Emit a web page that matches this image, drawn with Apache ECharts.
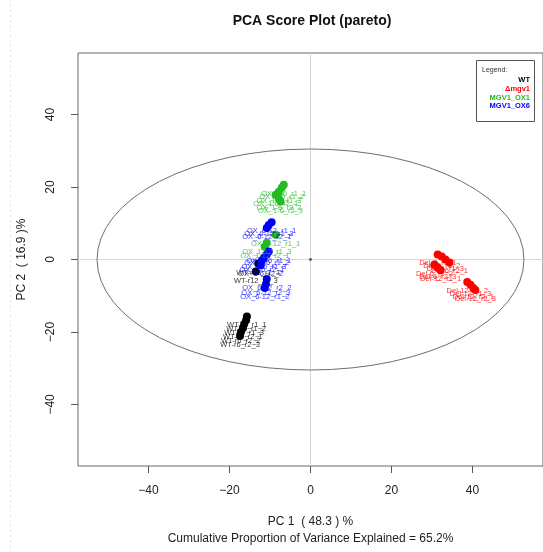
<!DOCTYPE html>
<html>
<head>
<meta charset="utf-8">
<script src="https://cdn.jsdelivr.net/npm/echarts@6/dist/echarts.min.js"></script>
<style>
  html, body { margin: 0; padding: 0; background: #fff; }
  #chart { width: 543px; height: 552px; }
</style>
</head>
<body>
<div id="chart"></div>
<script>
// PCA scores (pareto scaling) per sample group
const wtPC1 = [-15.7, -15.9, -16.4, -16.7, -17.2, -17.4, -12.9, -13.5];
const wtPC2 = [-15.7, -16.8, -17.9, -19.0, -20.1, -21.1, -1.1, -3.3];
const wtSamples = ['WT-r6_r1_1', 'WT-r6_r1_2', 'WT-r6_r1_3', 'WT-r6_r2_1', 'WT-r6_r2_2', 'WT-r6_r2_3', 'WT-r12_r1_1', 'WT-r12_r1_3'];

const delPC1 = [31.4, 32.4, 33.3, 34.3, 30.6, 31.4, 32.1, 38.7, 39.5, 40.2, 40.7];
const delPC2 = [1.4, 0.8, 0.0, -0.8, -1.4, -2.2, -3.0, -6.2, -7.0, -7.9, -8.4];
const delSamples = ['Del-6_r1_1', 'Del-6_r1_2', 'Del-6_r1_3', 'Del-6_r2_1', 'Del-6_r2_2', 'Del-6_r2_3', 'Del-12_r1_1', 'Del-12_r1_2', 'Del-12_r1_3', 'Del-12_r2_1', 'Del-12_r2_3'];

const ox1PC1 = [-6.6, -7.1, -7.8, -8.6, -7.8, -7.4, -8.6, -10.8, -11.3];
const ox1PC2 = [20.6, 19.8, 18.7, 17.9, 16.8, 16.0, 6.8, 4.6, 3.5];
const ox1Samples = ['OX_1-6_r1_1', 'OX_1-6_r1_2', 'OX_1-6_r1_3', 'OX_1-6_r2_1', 'OX_1-6_r2_2', 'OX_1-6_r2_3', 'OX_1-12_r1_1', 'OX_1-12_r1_3', 'OX_1-12_r2_1'];

const ox6PC1 = [-9.6, -10.3, -10.8, -10.3, -10.8, -11.5, -12.0, -12.3, -10.8, -11.0, -11.3];
const ox6PC2 = [10.3, 9.5, 8.7, 2.2, 1.4, 0.5, -0.3, -1.6, -5.4, -6.8, -7.9];
const ox6Samples = ['OX_6-12_r1_1', 'OX_6-12_r1_3', 'OX_6-12_r2_1', 'OX_6-6_r1_1', 'OX_6-6_r1_2', 'OX_6-6_r1_3', 'OX_6-6_r2_1', 'OX_6-6_r2_2', 'OX_6-12_r2_2', 'OX_6-12_r2_3', 'OX_6-12_r1_2'];

const groupNames = ['WT', 'Δmgv1', 'MGV1_OX1', 'MGV1_OX6'];
const groupColors = ['#000000', '#ff0000', '#22bb22', '#0000ff'];

// 95% confidence ellipse of the scores
const ellipseCenter = [0, 0];
const ellipseRadii = [52.7, 30.5];

const xTicks = [-40, -20, 0, 20, 40];
const yTicks = [-40, -20, 0, 20, 40];
const xRange = [-57.4, 57.4];
const yRange = [-57, 57];

const xTitle = 'PC 1  ( 48.3 ) %';
const xSubtitle = 'Cumulative Proportion of Variance Explained = 65.2%';
const yTitle = 'PC 2  ( 16.9 )%';
const plotTitle = 'PCA Score Plot (pareto)';

const groups = [
  [wtPC1, wtPC2, wtSamples],
  [delPC1, delPC2, delSamples],
  [ox1PC1, ox1PC2, ox1Samples],
  [ox6PC1, ox6PC2, ox6Samples]
];

const FONT = '"Liberation Sans", Arial, sans-serif';

const scatterSeries = groups.map(function (g, i) {
  const data = g[0].map(function (x, k) { return [x, g[1][k], g[2][k]]; });
  return {
    name: groupNames[i],
    type: 'scatter',
    data: data,
    symbol: 'circle',
    symbolSize: 8,
    itemStyle: { color: groupColors[i], opacity: 1 },
    label: {
      show: true,
      position: 'bottom',
      distance: 1,
      formatter: function (p) { return p.value[2]; },
      fontFamily: FONT,
      fontSize: 7.5,
      color: groupColors[i],
      opacity: 0.8
    },
    emphasis: { disabled: true },
    silent: true,
    z: 3
  };
});

// zero reference lines
scatterSeries[0].markLine = {
  silent: true,
  symbol: 'none',
  label: { show: false },
  lineStyle: { color: '#d6d6d6', width: 1, type: 'solid' },
  data: [{ xAxis: 0 }, { yAxis: 0 }],
  z: 1
};

const ellipseSeries = {
  type: 'custom',
  coordinateSystem: 'cartesian2d',
  data: [[ellipseCenter[0], ellipseCenter[1]]],
  silent: true,
  z: 2,
  renderItem: function (params, api) {
    const c = api.coord([api.value(0), api.value(1)]);
    const sz = api.size([ellipseRadii[0], ellipseRadii[1]]);
    const rx = sz[0], ry = sz[1];
    const d = 'M ' + (c[0] - rx) + ' ' + c[1] +
      ' A ' + rx + ' ' + ry + ' 0 1 0 ' + (c[0] + rx) + ' ' + c[1] +
      ' A ' + rx + ' ' + ry + ' 0 1 0 ' + (c[0] - rx) + ' ' + c[1] + ' Z';
    return {
      type: 'group',
      children: [
        { type: 'path', shape: { pathData: d }, style: { fill: 'none', stroke: '#6e6e6e', lineWidth: 1 } },
        { type: 'circle', shape: { cx: c[0], cy: c[1], r: 1.4 }, style: { fill: '#555' } }
      ]
    };
  }
};

// legend box drawn in the upper right corner
const legendChildren = [
  { type: 'rect', shape: { x: 476.5, y: 60.5, width: 58, height: 61 }, style: { fill: '#fff', stroke: '#555', lineWidth: 1 } },
  { type: 'text', style: { x: 482, y: 70, text: 'Legend:', font: '7px ' + FONT, fill: '#333', verticalAlign: 'middle' } }
];
groupNames.forEach(function (n, i) {
  legendChildren.push({
    type: 'text',
    style: { x: 530, y: 80 + i * 8.8, text: n, font: 'bold 7.5px ' + FONT, fill: groupColors[i], align: 'right', verticalAlign: 'middle' }
  });
});

const minusSign = function (v) { return String(v).replace('-', '\u2212'); };

const chart = echarts.init(document.getElementById('chart'), null, { renderer: 'canvas' });
chart.setOption({
  animation: false,
  backgroundColor: '#fff',
  grid: {
    left: 78, top: 53, width: 468, height: 420,
    show: true, borderColor: '#666', borderWidth: 1, backgroundColor: 'transparent'
  },
  xAxis: {
    type: 'value', min: xRange[0], max: xRange[1],
    axisLine: { show: false, onZero: false },
    splitLine: { show: false },
    axisTick: { show: true, length: 7, inside: false, customValues: xTicks, lineStyle: { color: '#555' } },
    axisLabel: { customValues: xTicks, margin: 19, fontFamily: FONT, fontSize: 12, color: '#222', formatter: minusSign },
    name: xTitle + '\n' + xSubtitle,
    nameLocation: 'middle',
    nameGap: 47,
    nameTextStyle: { fontFamily: FONT, fontSize: 12, color: '#222', lineHeight: 17 }
  },
  yAxis: {
    type: 'value', min: yRange[0], max: yRange[1],
    axisLine: { show: false, onZero: false },
    splitLine: { show: false },
    axisTick: { show: true, length: 7, inside: false, customValues: yTicks, lineStyle: { color: '#555' } },
    axisLabel: { customValues: yTicks, rotate: 90, margin: 21, fontFamily: FONT, fontSize: 12, color: '#222', formatter: minusSign },
    name: yTitle,
    nameLocation: 'middle',
    nameRotate: 90,
    nameGap: 50,
    nameTextStyle: { fontFamily: FONT, fontSize: 12, color: '#222' }
  },
  graphic: [
    { type: 'text', style: { x: 312, y: 21, text: plotTitle, font: 'bold 14px ' + FONT, fill: '#111', align: 'center', verticalAlign: 'middle' } },
    { type: 'line', shape: { x1: 10.5, y1: 0, x2: 10.5, y2: 552 }, style: { stroke: '#e6e6e6', lineWidth: 1, lineDash: [2, 3] } },
    { type: 'group', children: legendChildren, z: 10 }
  ],
  series: [ellipseSeries].concat(scatterSeries)
});
</script>
</body>
</html>
